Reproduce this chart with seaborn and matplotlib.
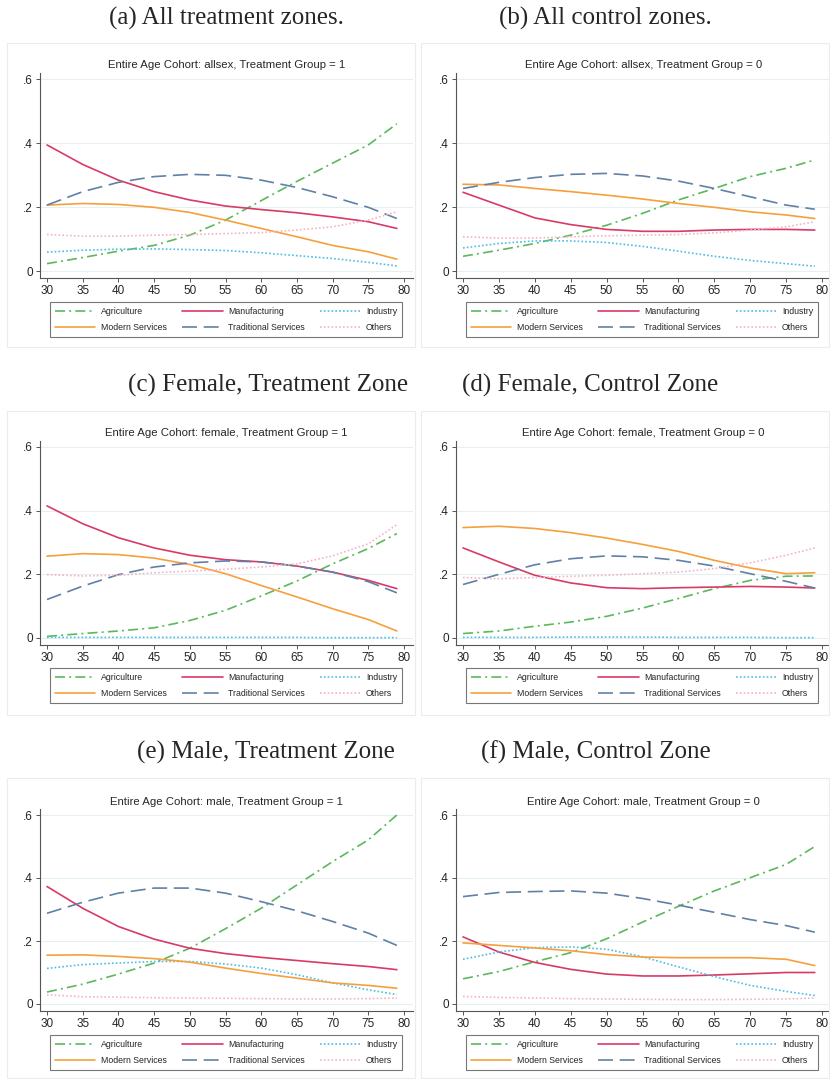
import numpy as np
import pandas as pd
import matplotlib
matplotlib.use("Agg")
import matplotlib.pyplot as plt
import matplotlib.patches as mpatches
import seaborn as sns

ages = [30, 35, 40, 45, 50, 55, 60, 65, 70, 75, 79]
sectors = ["Agriculture", "Manufacturing", "Industry",
           "Modern Services", "Traditional Services", "Others"]

# (a) allsex, treatment = 1
a_agri = [0.023, 0.042, 0.062, 0.080, 0.112, 0.159, 0.220, 0.280, 0.337, 0.394, 0.460]
a_manu = [0.394, 0.333, 0.284, 0.248, 0.222, 0.203, 0.192, 0.182, 0.169, 0.154, 0.133]
a_ind = [0.059, 0.065, 0.068, 0.069, 0.067, 0.064, 0.057, 0.048, 0.039, 0.027, 0.016]
a_mod = [0.206, 0.211, 0.208, 0.199, 0.183, 0.159, 0.133, 0.107, 0.080, 0.060, 0.037]
a_trad = [0.206, 0.248, 0.277, 0.295, 0.302, 0.299, 0.284, 0.261, 0.232, 0.199, 0.164]
a_oth = [0.114, 0.109, 0.109, 0.112, 0.114, 0.117, 0.120, 0.128, 0.138, 0.159, 0.185]

# (b) allsex, treatment = 0
b_agri = [0.046, 0.065, 0.086, 0.112, 0.143, 0.180, 0.222, 0.258, 0.295, 0.321, 0.347]
b_manu = [0.246, 0.206, 0.166, 0.145, 0.130, 0.124, 0.124, 0.128, 0.130, 0.130, 0.128]
b_ind = [0.072, 0.086, 0.094, 0.094, 0.089, 0.077, 0.062, 0.046, 0.033, 0.023, 0.015]
b_mod = [0.271, 0.269, 0.258, 0.248, 0.237, 0.225, 0.211, 0.199, 0.185, 0.175, 0.164]
b_trad = [0.258, 0.277, 0.292, 0.302, 0.305, 0.297, 0.281, 0.258, 0.232, 0.206, 0.193]
b_oth = [0.107, 0.103, 0.103, 0.107, 0.110, 0.112, 0.114, 0.119, 0.128, 0.138, 0.154]

# (c) female, treatment = 1
c_agri = [0.005, 0.014, 0.022, 0.032, 0.055, 0.087, 0.132, 0.179, 0.233, 0.281, 0.328]
c_manu = [0.415, 0.359, 0.315, 0.283, 0.260, 0.246, 0.239, 0.226, 0.207, 0.181, 0.155]
c_ind = [0.002, 0.002, 0.002, 0.002, 0.002, 0.002, 0.002, 0.002, 0.001, 0.001, 0.001]
c_mod = [0.257, 0.265, 0.262, 0.251, 0.231, 0.202, 0.165, 0.129, 0.092, 0.058, 0.022]
c_trad = [0.121, 0.163, 0.199, 0.223, 0.236, 0.242, 0.239, 0.226, 0.207, 0.177, 0.142]
c_oth = [0.199, 0.195, 0.197, 0.205, 0.210, 0.216, 0.223, 0.233, 0.258, 0.296, 0.356]

# (d) female, treatment = 0
d_agri = [0.014, 0.022, 0.037, 0.050, 0.068, 0.094, 0.124, 0.155, 0.181, 0.194, 0.195]
d_manu = [0.283, 0.239, 0.197, 0.173, 0.158, 0.155, 0.158, 0.160, 0.162, 0.160, 0.157]
d_ind = [0.002, 0.002, 0.002, 0.003, 0.003, 0.003, 0.002, 0.002, 0.002, 0.001, 0.001]
d_mod = [0.347, 0.351, 0.344, 0.331, 0.314, 0.294, 0.272, 0.244, 0.220, 0.202, 0.205]
d_trad = [0.168, 0.200, 0.230, 0.249, 0.258, 0.255, 0.244, 0.226, 0.202, 0.178, 0.157]
d_oth = [0.190, 0.186, 0.190, 0.194, 0.197, 0.202, 0.207, 0.218, 0.236, 0.260, 0.283]

# (e) male, treatment = 1
e_agri = [0.038, 0.063, 0.095, 0.130, 0.177, 0.239, 0.304, 0.378, 0.452, 0.521, 0.600]
e_manu = [0.373, 0.304, 0.246, 0.206, 0.177, 0.160, 0.148, 0.138, 0.128, 0.119, 0.109]
e_ind = [0.113, 0.125, 0.130, 0.135, 0.135, 0.127, 0.114, 0.093, 0.067, 0.045, 0.030]
e_mod = [0.155, 0.156, 0.151, 0.144, 0.133, 0.114, 0.097, 0.082, 0.067, 0.059, 0.050]
e_trad = [0.288, 0.323, 0.352, 0.368, 0.368, 0.352, 0.325, 0.296, 0.262, 0.225, 0.186]
e_oth = [0.029, 0.023, 0.022, 0.020, 0.019, 0.018, 0.017, 0.016, 0.016, 0.017, 0.019]

# (f) male, treatment = 0
f_agri = [0.080, 0.103, 0.134, 0.163, 0.207, 0.260, 0.310, 0.359, 0.401, 0.443, 0.500]
f_manu = [0.213, 0.165, 0.132, 0.110, 0.095, 0.089, 0.089, 0.092, 0.096, 0.100, 0.100]
f_ind = [0.142, 0.165, 0.179, 0.181, 0.174, 0.150, 0.118, 0.087, 0.059, 0.040, 0.027]
f_mod = [0.194, 0.186, 0.178, 0.169, 0.157, 0.149, 0.147, 0.147, 0.147, 0.142, 0.122]
f_trad = [0.341, 0.354, 0.357, 0.359, 0.352, 0.335, 0.314, 0.291, 0.268, 0.249, 0.228]
f_oth = [0.024, 0.021, 0.019, 0.017, 0.016, 0.015, 0.014, 0.014, 0.015, 0.016, 0.019]

captions = ["(a) All treatment zones.", "(b) All control zones.",
            "(c) Female, Treatment Zone", "(d) Female, Control Zone",
            "(e) Male, Treatment Zone", "(f) Male, Control Zone"]
titles = ["Entire Age Cohort: allsex, Treatment Group = 1",
          "Entire Age Cohort: allsex, Treatment Group = 0",
          "Entire Age Cohort: female, Treatment Group = 1",
          "Entire Age Cohort: female, Treatment Group = 0",
          "Entire Age Cohort: male, Treatment Group = 1",
          "Entire Age Cohort: male, Treatment Group = 0"]
series_sets = [
    [a_agri, a_manu, a_ind, a_mod, a_trad, a_oth],
    [b_agri, b_manu, b_ind, b_mod, b_trad, b_oth],
    [c_agri, c_manu, c_ind, c_mod, c_trad, c_oth],
    [d_agri, d_manu, d_ind, d_mod, d_trad, d_oth],
    [e_agri, e_manu, e_ind, e_mod, e_trad, e_oth],
    [f_agri, f_manu, f_ind, f_mod, f_trad, f_oth],
]

colors = {
    "Agriculture": "#5cb85c",
    "Manufacturing": "#d83a66",
    "Industry": "#4cbde6",
    "Modern Services": "#f5a03c",
    "Traditional Services": "#6180a6",
    "Others": "#f5b3c6",
}
styles = {
    "Agriculture": (0, (6, 2.5, 1.2, 2.5)),
    "Manufacturing": "-",
    "Industry": (0, (1, 1.3)),
    "Modern Services": "-",
    "Traditional Services": (0, (9, 4)),
    "Others": (0, (1, 1.3)),
}

sns.set_theme(style="white")
plt.rcParams['font.family'] = ['Liberation Sans', 'DejaVu Sans']

W, H = 830, 1079
fig = plt.figure(figsize=(W / 100, H / 100), dpi=100)

def fx(px):
    return px / W

def fy(py):
    return 1 - py / H

YMIN, YMAX = -0.022, 0.62
XMIN, XMAX = 29.0, 81.3

rows = [  # caption_y, y0 px, y.6 px, box top, box bottom, legend top
    (18, 271, 79, 43, 347, 302),
    (385, 638, 447, 411, 715, 668),
    (752, 1004, 815, 778, 1078, 1035),
]
cols = [  # x30 px, x80 px, box left, box right, legend centre x
    (47, 404, 7, 415, 226),
    (463, 822, 421, 829, 642),
]
cap_x = [226, 605, 268, 590, 266, 596]

order = ["Agriculture", "Modern Services", "Manufacturing",
         "Traditional Services", "Industry", "Others"]

for idx in range(6):
    r, c = divmod(idx, 2)
    cap_y, y0, y6, btop, bbot, ltop = rows[r]
    x30, x80, bl, br, lcx = cols[c]
    series = series_sets[idx]

    fig.patches.append(mpatches.Rectangle((fx(bl), fy(bbot)), fx(br - bl), (bbot - btop) / H,
                                          transform=fig.transFigure, fill=False,
                                          edgecolor="#ececec", lw=0.8, zorder=0))
    fig.text(fx(cap_x[idx]), fy(cap_y), captions[idx], ha="center", va="center",
             fontsize=18, family=["Liberation Serif", "DejaVu Serif"])

    ppu_y = (y0 - y6) / 0.6
    ppu_x = (x80 - x30) / 50.0
    left = x30 - (30 - XMIN) * ppu_x
    right = x30 + (XMAX - 30) * ppu_x
    top = y0 - YMAX * ppu_y
    bottom = y0 - YMIN * ppu_y
    ax = fig.add_axes([fx(left), fy(bottom), fx(right - left), (bottom - top) / H])

    for yv in [0, 0.2, 0.4, 0.6]:
        ax.axhline(yv, color="#e6f0f0", lw=0.8, zorder=0)

    for name, vals in zip(sectors, series):
        sns.lineplot(x=ages, y=vals, ax=ax, color=colors[name], linestyle=styles[name],
                     lw=1.2, label=name, legend=False)

    ax.set_xlim(XMIN, XMAX)
    ax.set_ylim(YMIN, YMAX)
    ax.set_xticks([30, 35, 40, 45, 50, 55, 60, 65, 70, 75, 80])
    ax.set_yticks([0, 0.2, 0.4, 0.6])
    ax.set_yticklabels(["0", ".2", ".4", ".6"])
    ax.set_xlabel("")
    ax.set_ylabel("")
    for s in ["top", "right"]:
        ax.spines[s].set_visible(False)
    for s in ["left", "bottom"]:
        ax.spines[s].set_color("#555555")
        ax.spines[s].set_linewidth(0.8)
    ax.tick_params(axis="both", which="both", direction="out", length=3, width=0.7,
                   color="#555555", labelsize=8.5, pad=2, left=True, bottom=True)
    ax.set_title(titles[idx], fontsize=8.2, pad=3)
    ax.set_facecolor("white")

    handles = {l.get_label(): l for l in ax.get_lines() if l.get_label() in sectors}
    leg = ax.legend([handles[k] for k in order], order, ncol=3,
                    loc="upper center", bbox_to_anchor=(fx(lcx), fy(ltop)),
                    bbox_transform=fig.transFigure,
                    fontsize=6.3, frameon=True, fancybox=False, handlelength=4.6,
                    columnspacing=1.8, handletextpad=0.6, borderpad=0.6,
                    labelspacing=0.75, borderaxespad=0)
    leg.get_frame().set_edgecolor("#555555")
    leg.get_frame().set_linewidth(0.8)

fig.savefig("out.png", dpi=100, facecolor="white")
